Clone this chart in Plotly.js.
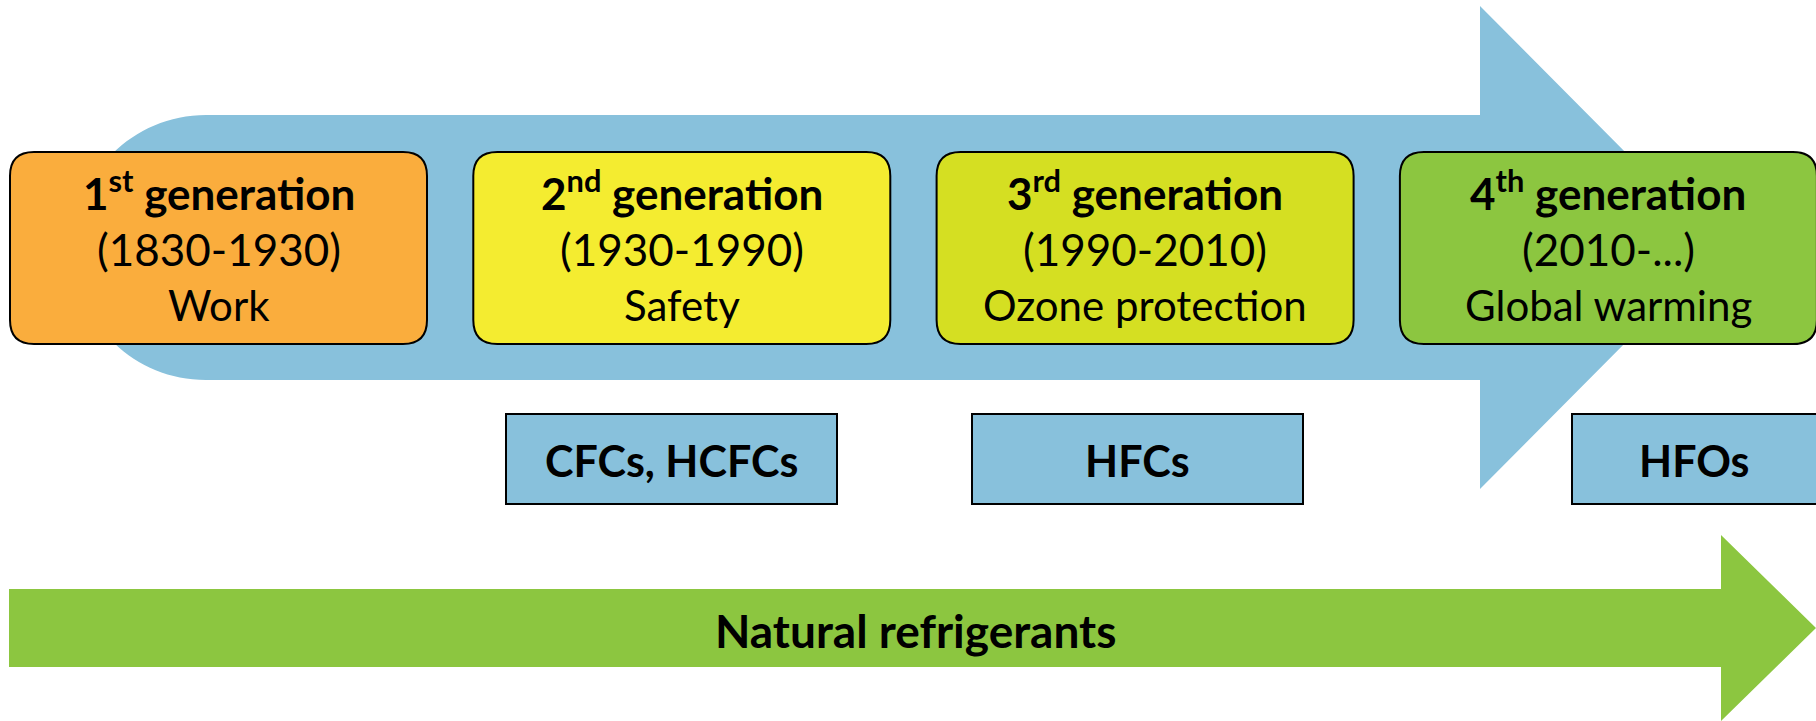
<!DOCTYPE html>
<html>
<head>
<meta charset="utf-8">
<script src="https://cdn.plot.ly/plotly-3.0.1.min.js"></script>
<style>html,body{margin:0;padding:0;background:#fff;}#chart{width:1816px;height:721px;}</style>
</head>
<body>
<div id="chart"></div>
<script>
// ---- data ----
const genNumbers = ["1", "2", "3", "4"];
const genSuffixes = ["st", "nd", "rd", "th"];
const periods = ["(1830-1930)", "(1930-1990)", "(1990-2010)", "(2010-...)"];
const drivers = ["Work", "Safety", "Ozone protection", "Global warming"];
const refrigerants = ["CFCs, HCFCs", "HFCs", "HFOs"];
const refrigerantGeneration = [2, 3, 4];
const naturalLabel = "Natural refrigerants";

// ---- styles / layout constants ----
const genColors = ["#FAAD3D", "#F4EC30", "#D5DF22", "#8CC640"];
const blue = "#88C1DC";
const green = "#8CC640";
const FONT = "Lato, 'Open Sans', sans-serif";

const W = 1816, H = 721;
const genLeft0 = 10, genStep = 463.3, genW = 417, genTop = 152, genBot = 344, genR = 24;
const refTop = 414, refBot = 504, refW = 331;
const refLefts = { 2: 506, 3: 972, 4: 1572 };

function roundRect(x0, y0, x1, y1, r) {
  return `M ${x0 + r},${y0} L ${x1 - r},${y0} Q ${x1},${y0} ${x1},${y0 + r} ` +
         `L ${x1},${y1 - r} Q ${x1},${y1} ${x1 - r},${y1} L ${x0 + r},${y1} ` +
         `Q ${x0},${y1} ${x0},${y1 - r} L ${x0},${y0 + r} Q ${x0},${y0} ${x0 + r},${y0} Z`;
}

const shapes = [];
const annotations = [];

// Blue big arrow
(function () {
  const top = 115, bot = 380, cx = 206, cy = (top + bot) / 2, r = (bot - top) / 2, k = 0.5523;
  const bodyR = 1480, headTop = 6, headBot = 489, tip = 1720;
  const path = `M ${cx},${top} L ${bodyR},${top} L ${bodyR},${headTop} L ${tip},${cy} ` +
    `L ${bodyR},${headBot} L ${bodyR},${bot} L ${cx},${bot} ` +
    `C ${cx - k * r},${bot} ${cx - r},${cy + k * r} ${cx - r},${cy} ` +
    `C ${cx - r},${cy - k * r} ${cx - k * r},${top} ${cx},${top} Z`;
  shapes.push({ type: "path", xref: "x", yref: "y", path, fillcolor: blue, line: { width: 0 }, layer: "below" });
})();

// Green arrow
(function () {
  const top = 589, bot = 667, cy = (top + bot) / 2, left = 9, bodyR = 1721, headTop = 535, headBot = 721, tip = 1816;
  const path = `M ${left},${top} L ${bodyR},${top} L ${bodyR},${headTop} L ${tip},${cy} L ${bodyR},${headBot} L ${bodyR},${bot} L ${left},${bot} Z`;
  shapes.push({ type: "path", xref: "x", yref: "y", path, fillcolor: green, line: { width: 0 }, layer: "below" });
  annotations.push({ x: 915, y: cy + 2, xref: "x", yref: "y", text: "<b>" + naturalLabel + "</b>", showarrow: false,
    font: { family: FONT, size: 46, color: "#000" }, xanchor: "center", yanchor: "middle" });
})();

// Generation boxes
genNumbers.forEach((n, i) => {
  const x0 = genLeft0 + i * genStep, x1 = x0 + genW, cx = (x0 + x1) / 2;
  shapes.push({ type: "path", xref: "x", yref: "y", path: roundRect(x0, genTop, x1, genBot, genR),
    fillcolor: genColors[i], line: { color: "#000", width: 2 } });
  annotations.push({ x: cx, y: 190, xref: "x", yref: "y", showarrow: false,
    text: `<b>${n}<sup>${genSuffixes[i]}</sup> generation</b>`,
    font: { family: FONT, size: 44, color: "#000" }, xanchor: "center", yanchor: "middle" });
  annotations.push({ x: cx, y: 249, xref: "x", yref: "y", showarrow: false, text: periods[i],
    font: { family: FONT, size: 44, color: "#000" }, xanchor: "center", yanchor: "middle" });
  annotations.push({ x: cx, y: 305, xref: "x", yref: "y", showarrow: false, text: drivers[i],
    font: { family: FONT, size: 42, color: "#000" }, xanchor: "center", yanchor: "middle" });
});

// Refrigerant boxes
refrigerants.forEach((name, i) => {
  const x0 = refLefts[refrigerantGeneration[i]], x1 = x0 + refW;
  shapes.push({ type: "rect", xref: "x", yref: "y", x0, x1, y0: refTop, y1: refBot,
    fillcolor: blue, line: { color: "#000", width: 2 } });
  const cx = x1 > W ? (x0 + W) / 2 : (x0 + x1) / 2;
  annotations.push({ x: cx, y: 460, xref: "x", yref: "y", showarrow: false,
    text: "<b>" + name + "</b>", font: { family: FONT, size: 43, color: "#000" }, xanchor: "center", yanchor: "middle" });
});

const trace = { x: [0, W], y: [0, H], mode: "markers", marker: { opacity: 0 }, hoverinfo: "skip", showlegend: false };

Plotly.newPlot("chart", [trace], {
  width: W, height: H,
  margin: { l: 0, r: 0, t: 0, b: 0, pad: 0 },
  paper_bgcolor: "#fff", plot_bgcolor: "#fff",
  xaxis: { range: [0, W], visible: false, fixedrange: true },
  yaxis: { range: [H, 0], visible: false, fixedrange: true },
  shapes, annotations, showlegend: false
}, { displayModeBar: false, staticPlot: true });
</script>
</body>
</html>
